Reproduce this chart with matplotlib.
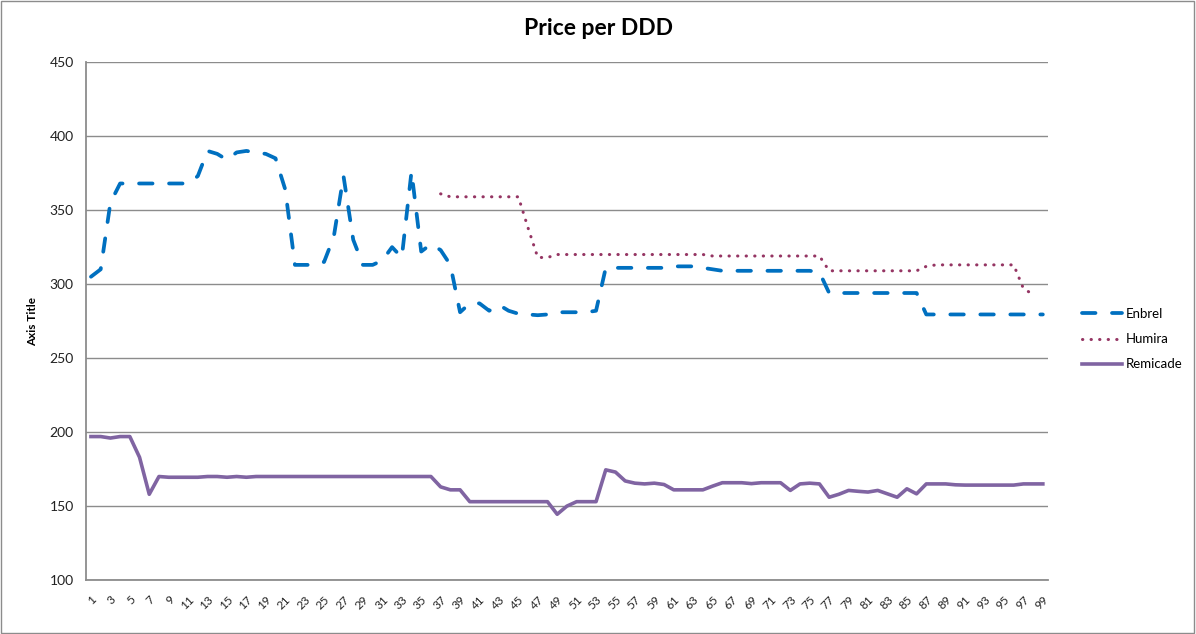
"""
plot.py
Price per DDD for Enbrel, Humira and Remicade, one point per period.
"""

import matplotlib

matplotlib.use("Agg")
import matplotlib.pyplot as plt
import numpy as np
from matplotlib.patches import Rectangle

plt.rcParams["font.family"] = ["Lato", "DejaVu Sans"]

# Periods 1..99
periods = list(range(1, 100))

enbrel = [
    305, 310, 355, 368, 368, 368, 368, 368, 368, 368,
    368, 373, 390, 388, 384, 389, 390, 389, 388, 385,
    364, 313, 313, 313, 315, 332, 373, 330, 313, 313,
    316, 325, 318, 376, 322, 327, 323, 313, 281, 287,
    287, 282, 286, 282, 280, 279.5, 279, 279.5, 281, 281,
    281, 281, 282, 311, 311, 311, 311, 311, 311, 311,
    312, 312, 312, 311, 310, 309, 309, 309, 309, 309,
    309, 309, 309, 309, 309, 308, 294, 294, 294, 294,
    294, 294, 294, 294, 294, 294, 279.5, 279.5, 279.5, 279.5,
    279.5, 279.5, 279.5, 279.5, 279.5, 279.5, 279.5, 279.5, 279.5,
]

nan = np.nan
humira = [
    nan, nan, nan, nan, nan, nan, nan, nan, nan, nan,
    nan, nan, nan, nan, nan, nan, nan, nan, nan, nan,
    nan, nan, nan, nan, nan, nan, nan, nan, nan, nan,
    nan, nan, nan, nan, nan, nan, 361, 359, 359, 359,
    359, 359, 359, 359, 359, 338, 318, 318, 320, 320,
    320, 320, 320, 320, 320, 320, 320, 320, 320, 320,
    320, 320, 320, 320, 319, 319, 319, 319, 319, 319,
    319, 319, 319, 319, 319, 319, 309, 309, 309, 309,
    309, 309, 309, 309, 309, 309, 312, 313, 313, 313,
    313, 313, 313, 313, 313, 313, 297, 293, nan,
]

remicade = [
    197, 197, 196, 197, 197, 183, 158, 170, 169.5, 169.5,
    169.5, 169.5, 170, 170, 169.5, 170, 169.5, 170, 170, 170,
    170, 170, 170, 170, 170, 170, 170, 170, 170, 170,
    170, 170, 170, 170, 170, 170, 163, 161, 161, 153,
    153, 153, 153, 153, 153, 153, 153, 153, 144.5, 150,
    153, 153, 153, 174.5, 173, 167, 165.5, 165, 165.5, 164.6,
    161, 161, 161, 161, 163.5, 165.8, 165.8, 165.8, 165.2, 165.8,
    165.8, 165.8, 160.6, 165, 165.5, 165, 156, 158, 160.6, 160,
    159.5, 160.6, 158.3, 156, 161.7, 158.3, 165, 165, 165, 164.4,
    164.2, 164.2, 164.2, 164.2, 164.2, 164.2, 165, 165, 165,
]

y_ticks = [100, 150, 200, 250, 300, 350, 400, 450]
x_tick_labels = [str(p) for p in periods[::2]]


def main():
    fig = plt.figure(figsize=(11.96, 6.34), dpi=100)
    ax = fig.add_axes([0.072, 0.085, 0.804, 0.817])

    ax.plot(periods, enbrel, color="#0070C0", lw=2.7,
            linestyle=(0, (3.6, 4.4)), dash_capstyle="round",
            solid_joinstyle="round", label="Enbrel")
    ax.plot(periods, humira, color="#953563", lw=2.2,
            linestyle=(0, (0.1, 2.7)), dash_capstyle="round", label="Humira")
    ax.plot(periods, remicade, color="#8064A2", lw=2.6,
            solid_joinstyle="round", label="Remicade")

    ax.set_xlim(0.5, 99.5)
    ax.set_ylim(100, 450)
    ax.set_yticks(y_ticks)
    ax.set_xticks(periods[::2])
    ax.set_xticklabels(x_tick_labels, rotation=45, ha="right", va="top",
                       rotation_mode="anchor", fontsize=8.5, color="#222222")
    ax.tick_params(axis="y", length=0, pad=9, labelsize=10, labelcolor="#222222")
    ax.tick_params(axis="x", length=0, pad=10)

    # Excel-style grey gridlines and axes
    ax.grid(axis="y", color="#8c8c8c", lw=1)
    ax.set_axisbelow(True)
    for side in ["top", "right"]:
        ax.spines[side].set_visible(False)
    for side in ["left", "bottom"]:
        ax.spines[side].set_color("#8c8c8c")
        ax.spines[side].set_linewidth(1.3)

    ax.set_ylabel("Axis Title", fontsize=8.5, fontweight="bold", labelpad=8)
    fig.suptitle("Price per DDD", fontsize=16.5, fontweight="bold", y=0.972)

    fig.legend(loc="center left", bbox_to_anchor=(0.895, 0.465), frameon=False,
               fontsize=9.5, handlelength=3.0, labelspacing=1.0, handletextpad=0.3)

    # chart area border
    fig.add_artist(Rectangle((0.001, 0.002), 0.997, 0.996, transform=fig.transFigure,
                             fill=False, edgecolor="#8c8c8c", lw=1))

    fig.savefig("out.png", dpi=100)
    plt.close(fig)


if __name__ == "__main__":
    main()
